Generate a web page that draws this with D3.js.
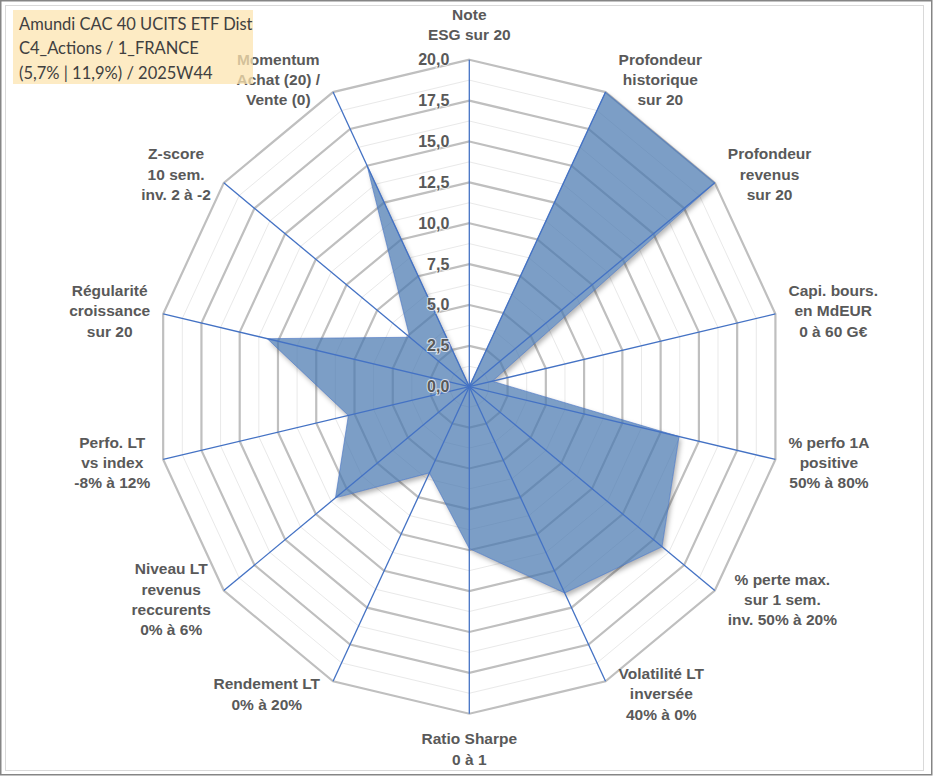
<!DOCTYPE html>
<html lang="fr">
<head>
<meta charset="UTF-8">
<title>Amundi CAC 40 UCITS ETF Dist - radar</title>
<script src="https://d3js.org/d3.v7.min.js"></script>
<style>
  body { margin: 0; background: #fff; }
  svg { display: block; }
  .axis-label { font-family: Arial, 'Liberation Sans', sans-serif; font-weight: bold; font-size: 15.5px; fill: #595959; }
  .tick-label { font-family: Arial, 'Liberation Sans', sans-serif; font-weight: bold; font-size: 16px; fill: #595959;
                stroke: #fff; stroke-width: 2px; stroke-opacity: 0.7; paint-order: stroke; }
  .title { font-family: Lato, 'Open Sans', sans-serif; font-size: 16.5px; fill: #404040; }
</style>
</head>
<body>
<svg></svg>
<script>
// axes, clockwise from the top
const axisLabels = [
  ["Note", "ESG sur 20"],
  ["Profondeur", "historique", "sur 20"],
  ["Profondeur", "revenus", "sur 20"],
  ["Capi. bours.", "en MdEUR", "0 à 60 G€"],
  ["% perfo 1A", "positive", "50% à 80%"],
  ["% perte max.", "sur 1 sem.", "inv. 50% à 20%"],
  ["Volatilité LT", "inversée", "40% à 0%"],
  ["Ratio Sharpe", "0 à 1"],
  ["Rendement LT", "0% à 20%"],
  ["Niveau LT", "revenus", "reccurents", "0% à 6%"],
  ["Perfo. LT", "vs index", "-8% à 12%"],
  ["Régularité", "croissance", "sur 20"],
  ["Z-score", "10 sem.", "inv. 2 à -2"],
  ["Momentum", "Achat (20) /", "Vente (0)"]
];
const scores = [0, 20, 20, 1.5, 13.7, 15.7, 14.0, 9.9, 5.85, 10.9, 7.9, 13.2, 4.85, 15.0];
const tickValues = [0, 2.5, 5, 7.5, 10, 12.5, 15, 17.5, 20];
const minorTicks = [1.25, 3.75, 6.25, 8.75, 11.25, 13.75, 16.25, 18.75];
const titleLines = ["Amundi CAC 40 UCITS ETF Dist", "C4_Actions / 1_FRANCE", "(5,7% | 11,9%) / 2025W44"];

const width = 933, height = 776;
const cx = 469.3, cy = 386.7;
const rx = 314, ry = 327;   // picture is a bit taller than wide
const lineH = 20.3;

const svg = d3.select("svg").attr("width", width).attr("height", height);

const n = axisLabels.length;
const angle = d3.scaleLinear().domain([0, n]).range([0, 2 * Math.PI]);
const r = d3.scaleLinear().domain([0, 20]).range([0, 1]);
const fr = d3.formatLocale({ decimal: ",", thousands: " ", grouping: [3], currency: ["", "€"] }).format(".1f");

function pt(i, v) {
  const a = angle(i);
  return [cx + rx * r(v) * Math.sin(a), cy - ry * r(v) * Math.cos(a)];
}

// frame
svg.append("rect").attr("x", 0.75).attr("y", 0.75).attr("width", width - 2).attr("height", height - 2)
  .attr("fill", "#fff").attr("stroke", "#858585").attr("stroke-width", 1.5);
svg.append("rect").attr("x", 5.5).attr("y", 5.5).attr("width", 918).attr("height", 765)
  .attr("fill", "none").attr("stroke", "#d9d9d9").attr("stroke-width", 1);

const ring = v => d3.range(n).map(i => pt(i, v));
const lineClosed = d3.line().curve(d3.curveLinearClosed);
const seriesPath = lineClosed(scores.map((v, i) => pt(i, v)));

// shadow only outside the shape
const defs = svg.append("defs");
defs.append("filter").attr("id", "blur").attr("x", "-10%").attr("y", "-10%").attr("width", "130%").attr("height", "130%")
  .append("feGaussianBlur").attr("stdDeviation", 2.5);
const mask = defs.append("mask").attr("id", "outside");
mask.append("rect").attr("width", width).attr("height", height).attr("fill", "#fff");
mask.append("path").attr("d", seriesPath).attr("fill", "#000");

// grid
svg.append("g").selectAll("path").data(minorTicks).join("path")
  .attr("d", v => lineClosed(ring(v)))
  .attr("fill", "none").attr("stroke", "#e9e9e9").attr("stroke-width", 1);
svg.append("g").selectAll("path").data(tickValues.filter(v => v > 0)).join("path")
  .attr("d", v => lineClosed(ring(v)))
  .attr("fill", "none").attr("stroke", "#bfbfbf").attr("stroke-width", 2.2);

// series
svg.append("g").attr("mask", "url(#outside)")
  .append("path").attr("d", seriesPath)
  .attr("transform", "translate(2,3)")
  .attr("fill", "#000").attr("fill-opacity", 0.3)
  .attr("filter", "url(#blur)");
svg.append("path")
  .attr("d", seriesPath)
  .attr("fill", "#4a78b0").attr("fill-opacity", 0.72)
  .attr("stroke", "#4472c4").attr("stroke-width", 1).attr("stroke-opacity", 0.6);

// spokes
svg.append("g").selectAll("line").data(d3.range(n)).join("line")
  .attr("x1", cx).attr("y1", cy)
  .attr("x2", i => pt(i, 20)[0]).attr("y2", i => pt(i, 20)[1])
  .attr("stroke", "#4472c4").attr("stroke-width", 1.3);

// radial tick labels
svg.append("g").selectAll("text").data(tickValues).join("text")
  .attr("class", "tick-label")
  .attr("x", cx - 20)
  .attr("y", v => cy - ry * r(v))
  .attr("text-anchor", "end")
  .attr("dominant-baseline", "central")
  .text(v => fr(v));

// category labels
const lab = svg.append("g").selectAll("text").data(axisLabels).join("text")
  .attr("class", "axis-label")
  .attr("text-anchor", "middle");
lab.each(function (lines, i) {
  const t = d3.select(this);
  lines.forEach((s, k) => t.append("tspan").attr("x", 0).attr("y", (k - (lines.length - 1) / 2) * lineH)
    .attr("dominant-baseline", "central").text(s));
  const w = d3.max(t.selectAll("tspan").nodes(), nd => nd.getComputedTextLength());
  const a = angle(i), s = Math.sin(a), c = Math.cos(a);
  const [ex, ey] = pt(i, 20);
  let dx, dy;
  if (Math.abs(s) < 0.01) {
    dx = 0;
    dy = -c * (lines.length * lineH / 2 + 15);
  } else {
    dx = Math.sign(s) * (w / 2 + 13);
    dy = -c * 14;
  }
  t.attr("transform", `translate(${ex + dx},${ey + dy})`);
});

// title box, drawn over the chart
svg.append("rect").attr("x", 13).attr("y", 10).attr("width", 240).attr("height", 74)
  .attr("fill", "#fce4b0").attr("fill-opacity", 0.75);
svg.append("g").selectAll("text").data(titleLines).join("text")
  .attr("class", "title")
  .attr("x", 19)
  .attr("y", (d, k) => 24 + k * 24.3)
  .attr("dominant-baseline", "central")
  .text(d => d);
</script>
</body>
</html>
